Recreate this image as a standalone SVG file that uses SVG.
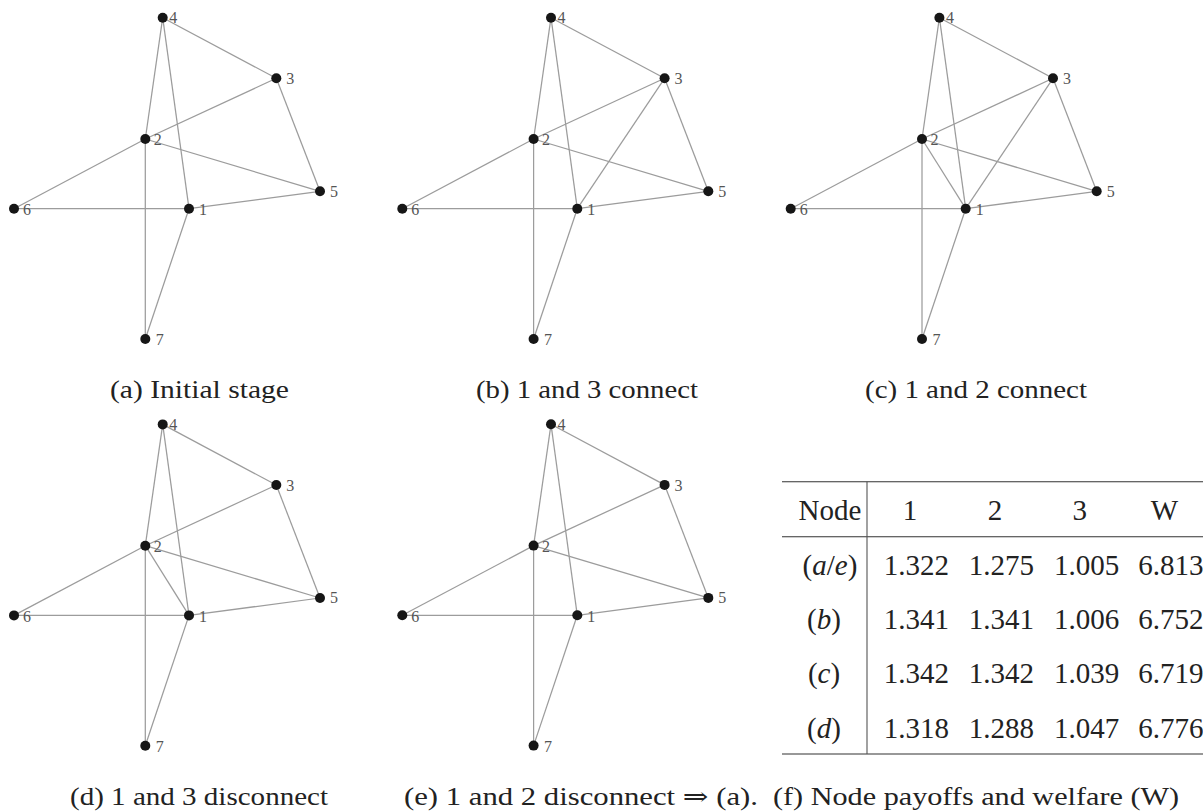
<svg xmlns="http://www.w3.org/2000/svg" width="1203" height="811" viewBox="0 0 1203 811">
<style>
.e{stroke:#9c9c9c;stroke-width:1.25;fill:none}
.n{fill:#161616}
.l{font-family:'Liberation Serif',serif;font-size:16px;fill:#555}
.cap{font-family:'Liberation Serif','DejaVu Serif',serif;font-size:25px;fill:#222}
.t{font-family:'Liberation Serif','DejaVu Serif',serif;font-size:29px;fill:#222;text-anchor:middle}
.rule{stroke:#333;stroke-width:1.1}
</style>
<rect width="1203" height="811" fill="#fff"/>

<!-- (a) -->
<g id="graph-a">
<g id="a-edges">
<line class="e" x1="162.7" y1="17.7" x2="276.3" y2="78.3"/>
<line class="e" x1="162.7" y1="17.7" x2="145.3" y2="139"/>
<line class="e" x1="162.7" y1="17.7" x2="189" y2="208.7"/>
<line class="e" x1="276.3" y1="78.3" x2="145.3" y2="139"/>
<line class="e" x1="276.3" y1="78.3" x2="320" y2="191.3"/>
<line class="e" x1="145.3" y1="139" x2="14" y2="208.7"/>
<line class="e" x1="145.3" y1="139" x2="320" y2="191.3"/>
<line class="e" x1="145.3" y1="139" x2="145.3" y2="339"/>
<line class="e" x1="14" y1="208.7" x2="189" y2="208.7"/>
<line class="e" x1="189" y1="208.7" x2="320" y2="191.3"/>
<line class="e" x1="189" y1="208.7" x2="145.3" y2="339"/>
</g>
<g id="a-n1"><circle class="n" cx="189" cy="208.7" r="5"/><text class="l" x="199" y="215">1</text></g>
<g id="a-n2"><circle class="n" cx="145.3" cy="139" r="5"/><text class="l" x="153.8" y="145">2</text></g>
<g id="a-n3"><circle class="n" cx="276.3" cy="78.3" r="5"/><text class="l" x="286.3" y="84.3">3</text></g>
<g id="a-n4"><circle class="n" cx="162.7" cy="17.7" r="5"/><text class="l" x="169.2" y="23.4">4</text></g>
<g id="a-n5"><circle class="n" cx="320" cy="191.3" r="5"/><text class="l" x="330" y="196.6">5</text></g>
<g id="a-n6"><circle class="n" cx="14" cy="208.7" r="5"/><text class="l" x="23" y="215">6</text></g>
<g id="a-n7"><circle class="n" cx="145.3" cy="339" r="5"/><text class="l" x="155.8" y="345.3">7</text></g>
</g>

<!-- (b) -->
<g id="graph-b" transform="translate(388.3,0)">
<g id="b-edges">
<line class="e" x1="162.7" y1="17.7" x2="276.3" y2="78.3"/>
<line class="e" x1="162.7" y1="17.7" x2="145.3" y2="139"/>
<line class="e" x1="162.7" y1="17.7" x2="189" y2="208.7"/>
<line class="e" x1="276.3" y1="78.3" x2="145.3" y2="139"/>
<line class="e" x1="276.3" y1="78.3" x2="320" y2="191.3"/>
<line class="e" x1="145.3" y1="139" x2="14" y2="208.7"/>
<line class="e" x1="145.3" y1="139" x2="320" y2="191.3"/>
<line class="e" x1="145.3" y1="139" x2="145.3" y2="339"/>
<line class="e" x1="14" y1="208.7" x2="189" y2="208.7"/>
<line class="e" x1="189" y1="208.7" x2="320" y2="191.3"/>
<line class="e" x1="189" y1="208.7" x2="145.3" y2="339"/>
<line class="e" x1="189" y1="208.7" x2="276.3" y2="78.3"/>
</g>
<g id="b-n1"><circle class="n" cx="189" cy="208.7" r="5"/><text class="l" x="199" y="215">1</text></g>
<g id="b-n2"><circle class="n" cx="145.3" cy="139" r="5"/><text class="l" x="153.8" y="145">2</text></g>
<g id="b-n3"><circle class="n" cx="276.3" cy="78.3" r="5"/><text class="l" x="286.3" y="84.3">3</text></g>
<g id="b-n4"><circle class="n" cx="162.7" cy="17.7" r="5"/><text class="l" x="169.2" y="23.4">4</text></g>
<g id="b-n5"><circle class="n" cx="320" cy="191.3" r="5"/><text class="l" x="330" y="196.6">5</text></g>
<g id="b-n6"><circle class="n" cx="14" cy="208.7" r="5"/><text class="l" x="23" y="215">6</text></g>
<g id="b-n7"><circle class="n" cx="145.3" cy="339" r="5"/><text class="l" x="155.8" y="345.3">7</text></g>
</g>

<!-- (c) -->
<g id="graph-c" transform="translate(776.7,0)">
<g id="c-edges">
<line class="e" x1="162.7" y1="17.7" x2="276.3" y2="78.3"/>
<line class="e" x1="162.7" y1="17.7" x2="145.3" y2="139"/>
<line class="e" x1="162.7" y1="17.7" x2="189" y2="208.7"/>
<line class="e" x1="276.3" y1="78.3" x2="145.3" y2="139"/>
<line class="e" x1="276.3" y1="78.3" x2="320" y2="191.3"/>
<line class="e" x1="145.3" y1="139" x2="14" y2="208.7"/>
<line class="e" x1="145.3" y1="139" x2="320" y2="191.3"/>
<line class="e" x1="145.3" y1="139" x2="145.3" y2="339"/>
<line class="e" x1="14" y1="208.7" x2="189" y2="208.7"/>
<line class="e" x1="189" y1="208.7" x2="320" y2="191.3"/>
<line class="e" x1="189" y1="208.7" x2="145.3" y2="339"/>
<line class="e" x1="189" y1="208.7" x2="276.3" y2="78.3"/>
<line class="e" x1="189" y1="208.7" x2="145.3" y2="139"/>
</g>
<g id="c-n1"><circle class="n" cx="189" cy="208.7" r="5"/><text class="l" x="199" y="215">1</text></g>
<g id="c-n2"><circle class="n" cx="145.3" cy="139" r="5"/><text class="l" x="153.8" y="145">2</text></g>
<g id="c-n3"><circle class="n" cx="276.3" cy="78.3" r="5"/><text class="l" x="286.3" y="84.3">3</text></g>
<g id="c-n4"><circle class="n" cx="162.7" cy="17.7" r="5"/><text class="l" x="169.2" y="23.4">4</text></g>
<g id="c-n5"><circle class="n" cx="320" cy="191.3" r="5"/><text class="l" x="330" y="196.6">5</text></g>
<g id="c-n6"><circle class="n" cx="14" cy="208.7" r="5"/><text class="l" x="23" y="215">6</text></g>
<g id="c-n7"><circle class="n" cx="145.3" cy="339" r="5"/><text class="l" x="155.8" y="345.3">7</text></g>
</g>

<!-- (d) -->
<g id="graph-d" transform="translate(0,406.7)">
<g id="d-edges">
<line class="e" x1="162.7" y1="17.7" x2="276.3" y2="78.3"/>
<line class="e" x1="162.7" y1="17.7" x2="145.3" y2="139"/>
<line class="e" x1="162.7" y1="17.7" x2="189" y2="208.7"/>
<line class="e" x1="276.3" y1="78.3" x2="145.3" y2="139"/>
<line class="e" x1="276.3" y1="78.3" x2="320" y2="191.3"/>
<line class="e" x1="145.3" y1="139" x2="14" y2="208.7"/>
<line class="e" x1="145.3" y1="139" x2="320" y2="191.3"/>
<line class="e" x1="145.3" y1="139" x2="145.3" y2="339"/>
<line class="e" x1="14" y1="208.7" x2="189" y2="208.7"/>
<line class="e" x1="189" y1="208.7" x2="320" y2="191.3"/>
<line class="e" x1="189" y1="208.7" x2="145.3" y2="339"/>
<line class="e" x1="189" y1="208.7" x2="145.3" y2="139"/>
</g>
<g id="d-n1"><circle class="n" cx="189" cy="208.7" r="5"/><text class="l" x="199" y="215">1</text></g>
<g id="d-n2"><circle class="n" cx="145.3" cy="139" r="5"/><text class="l" x="153.8" y="145">2</text></g>
<g id="d-n3"><circle class="n" cx="276.3" cy="78.3" r="5"/><text class="l" x="286.3" y="84.3">3</text></g>
<g id="d-n4"><circle class="n" cx="162.7" cy="17.7" r="5"/><text class="l" x="169.2" y="23.4">4</text></g>
<g id="d-n5"><circle class="n" cx="320" cy="191.3" r="5"/><text class="l" x="330" y="196.6">5</text></g>
<g id="d-n6"><circle class="n" cx="14" cy="208.7" r="5"/><text class="l" x="23" y="215">6</text></g>
<g id="d-n7"><circle class="n" cx="145.3" cy="339" r="5"/><text class="l" x="155.8" y="345.3">7</text></g>
</g>

<!-- (e) -->
<g id="graph-e" transform="translate(388.3,406.6)">
<g id="e-edges">
<line class="e" x1="162.7" y1="17.7" x2="276.3" y2="78.3"/>
<line class="e" x1="162.7" y1="17.7" x2="145.3" y2="139"/>
<line class="e" x1="162.7" y1="17.7" x2="189" y2="208.7"/>
<line class="e" x1="276.3" y1="78.3" x2="145.3" y2="139"/>
<line class="e" x1="276.3" y1="78.3" x2="320" y2="191.3"/>
<line class="e" x1="145.3" y1="139" x2="14" y2="208.7"/>
<line class="e" x1="145.3" y1="139" x2="320" y2="191.3"/>
<line class="e" x1="145.3" y1="139" x2="145.3" y2="339"/>
<line class="e" x1="14" y1="208.7" x2="189" y2="208.7"/>
<line class="e" x1="189" y1="208.7" x2="320" y2="191.3"/>
<line class="e" x1="189" y1="208.7" x2="145.3" y2="339"/>
</g>
<g id="e-n1"><circle class="n" cx="189" cy="208.7" r="5"/><text class="l" x="199" y="215">1</text></g>
<g id="e-n2"><circle class="n" cx="145.3" cy="139" r="5"/><text class="l" x="153.8" y="145">2</text></g>
<g id="e-n3"><circle class="n" cx="276.3" cy="78.3" r="5"/><text class="l" x="286.3" y="84.3">3</text></g>
<g id="e-n4"><circle class="n" cx="162.7" cy="17.7" r="5"/><text class="l" x="169.2" y="23.4">4</text></g>
<g id="e-n5"><circle class="n" cx="320" cy="191.3" r="5"/><text class="l" x="330" y="196.6">5</text></g>
<g id="e-n6"><circle class="n" cx="14" cy="208.7" r="5"/><text class="l" x="23" y="215">6</text></g>
<g id="e-n7"><circle class="n" cx="145.3" cy="339" r="5"/><text class="l" x="155.8" y="345.3">7</text></g>
</g>

<!-- table (f) -->
<g id="table-f">
<line class="rule" x1="782" y1="481.7" x2="1203" y2="481.7"/>
<line class="rule" x1="782" y1="536.7" x2="1203" y2="536.7"/>
<line class="rule" x1="782" y1="754" x2="1203" y2="754"/>
<line x1="867" y1="481.7" x2="867" y2="754" stroke="#555" stroke-width="1.1"/>
<text class="t" x="830" y="520">Node</text>
<text class="t" x="910" y="520">1</text>
<text class="t" x="995" y="520">2</text>
<text class="t" x="1079.7" y="520">3</text>
<text class="t" x="1164.5" y="520">W</text>

<text class="t" x="830" y="575">(<tspan font-style="italic">a</tspan>/<tspan font-style="italic">e</tspan>)</text>
<text class="t" x="916.3" y="575">1.322</text>
<text class="t" x="1001.3" y="575">1.275</text>
<text class="t" x="1086.7" y="575">1.005</text>
<text class="t" x="1170.8" y="575">6.813</text>

<text class="t" x="824" y="629.3">(<tspan font-style="italic">b</tspan>)</text>
<text class="t" x="916.3" y="629.3">1.341</text>
<text class="t" x="1001.3" y="629.3">1.341</text>
<text class="t" x="1086.7" y="629.3">1.006</text>
<text class="t" x="1170.8" y="629.3">6.752</text>

<text class="t" x="824" y="683.3">(<tspan font-style="italic">c</tspan>)</text>
<text class="t" x="916.3" y="683.3">1.342</text>
<text class="t" x="1001.3" y="683.3">1.342</text>
<text class="t" x="1086.7" y="683.3">1.039</text>
<text class="t" x="1170.8" y="683.3">6.719</text>

<text class="t" x="824" y="737.7">(<tspan font-style="italic">d</tspan>)</text>
<text class="t" x="916.3" y="737.7">1.318</text>
<text class="t" x="1001.3" y="737.7">1.288</text>
<text class="t" x="1086.7" y="737.7">1.047</text>
<text class="t" x="1170.8" y="737.7">6.776</text>
</g>

<!-- captions -->
<g id="captions">
<text class="cap" x="110" y="398" textLength="179" lengthAdjust="spacingAndGlyphs">(a) Initial stage</text>
<text class="cap" x="476" y="398" textLength="222" lengthAdjust="spacingAndGlyphs">(b) 1 and 3 connect</text>
<text class="cap" x="865" y="398" textLength="222" lengthAdjust="spacingAndGlyphs">(c) 1 and 2 connect</text>
<text class="cap" x="70" y="805" textLength="258" lengthAdjust="spacingAndGlyphs">(d) 1 and 3 disconnect</text>
<text class="cap" x="404" y="805" textLength="354" lengthAdjust="spacingAndGlyphs">(e) 1 and 2 disconnect ⇒ (a).</text>
<text class="cap" x="773" y="805" textLength="406" lengthAdjust="spacingAndGlyphs">(f) Node payoffs and welfare (W)</text>
</g>
</svg>
